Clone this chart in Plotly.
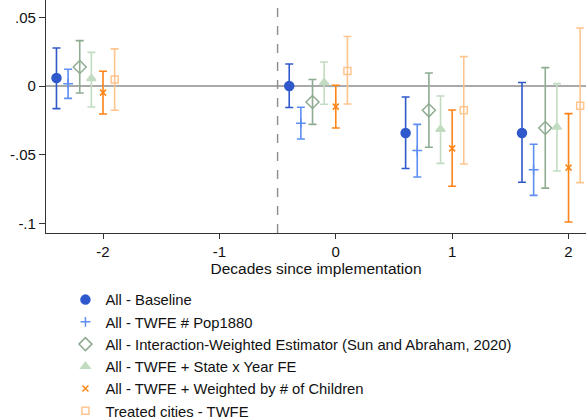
import plotly.graph_objects as go

# Event-study estimates by decade relative to implementation
decades = [-2, 0, 1, 2]

series_names = [
    "All - Baseline",
    "All - TWFE # Pop1880",
    "All - Interaction-Weighted Estimator (Sun and Abraham, 2020)",
    "All - TWFE + State x Year FE",
    "All - TWFE + Weighted by # of Children",
    "Treated cities - TWFE",
]

baseline_est = [0.0058, 0.0, -0.0342, -0.0342]
baseline_hi = [0.0277, 0.0160, -0.0080, 0.0025]
baseline_lo = [-0.0165, -0.0157, -0.0601, -0.0701]

pop1880_est = [0.0017, -0.0272, -0.0470, -0.0609]
pop1880_hi = [0.0122, -0.0155, -0.0279, -0.0424]
pop1880_lo = [-0.0090, -0.0386, -0.0662, -0.0796]

iw_est = [0.0138, -0.0116, -0.0177, -0.0306]
iw_hi = [0.0330, 0.0047, 0.0095, 0.0134]
iw_lo = [-0.0051, -0.0279, -0.0446, -0.0743]

stateyear_est = [0.0054, 0.0025, -0.0315, -0.0298]
stateyear_hi = [0.0245, 0.0175, -0.0073, 0.0017]
stateyear_lo = [-0.0153, -0.0133, -0.0563, -0.0619]

children_est = [-0.0048, -0.0150, -0.0454, -0.0594]
children_hi = [0.0107, 0.0005, -0.0175, -0.0201]
children_lo = [-0.0204, -0.0306, -0.0730, -0.0990]

treated_est = [0.0047, 0.0109, -0.0177, -0.0143]
treated_hi = [0.0270, 0.0360, 0.0214, 0.0422]
treated_lo = [-0.0177, -0.0131, -0.0568, -0.0703]

x_offsets = [-0.4, -0.3, -0.2, -0.1, 0.0, 0.1]

estimates = [baseline_est, pop1880_est, iw_est, stateyear_est, children_est, treated_est]
upper = [baseline_hi, pop1880_hi, iw_hi, stateyear_hi, children_hi, treated_hi]
lower = [baseline_lo, pop1880_lo, iw_lo, stateyear_lo, children_lo, treated_lo]

colors = ["#2f58cc", "#5e8ef2", "#8fac92", "#c2dcc2", "#ff8418", "#ffc58f"]
symbols = ["circle", "cross-thin", "diamond-open", "triangle-up", "x-thin", "square-open"]
sizes = [9, 7, 10, 8, 6, 7]

fig = go.Figure()

for name, est, hi, lo, off, col, sym, sz in zip(
    series_names, estimates, upper, lower, x_offsets, colors, symbols, sizes
):
    xs = [d + off for d in decades]
    fig.add_trace(
        go.Scatter(
            x=xs,
            y=est,
            mode="markers",
            name=name,
            marker=dict(
                symbol=sym,
                size=sz,
                color=col,
                line=dict(color=col, width=1.5),
            ),
            error_y=dict(
                type="data",
                symmetric=False,
                array=[h - e for h, e in zip(hi, est)],
                arrayminus=[e - l for e, l in zip(est, lo)],
                color=col,
                thickness=1.6,
                width=4,
            ),
        )
    )

# Reference lines: zero effect and implementation timing
fig.add_hline(y=0, line=dict(color="#8c8c8c", width=1.6), layer="below")
fig.add_vline(x=-0.5, line=dict(color="#8c8c8c", width=1.4, dash="dash"), layer="below")

font_family = "Liberation Sans, Arial, sans-serif"

fig.update_layout(
    width=586,
    height=420,
    margin=dict(l=46, r=0, t=0, b=187),
    plot_bgcolor="white",
    paper_bgcolor="white",
    font=dict(family=font_family, size=15, color="#111111"),
    showlegend=True,
    legend=dict(
        xref="paper",
        yref="container",
        x=0.036,
        y=0.325,
        xanchor="left",
        yanchor="top",
        font=dict(size=14.8, color="#111111"),
        bgcolor="rgba(0,0,0,0)",
        itemwidth=30,
        tracegroupgap=0,
    ),
    xaxis=dict(
        range=[-2.49, 2.15],
        tickvals=[-2, -1, 0, 1, 2],
        ticktext=["-2", "-1", "0", "1", "2"],
        showgrid=False,
        zeroline=False,
        showline=True,
        linecolor="#333333",
        linewidth=1.2,
        ticks="outside",
        ticklen=5,
        tickcolor="#333333",
        tickfont=dict(size=15),
        automargin=False,
        title=dict(text="Decades since implementation", font=dict(size=15.5), standoff=0),
    ),
    yaxis=dict(
        range=[-0.107, 0.0626],
        tickvals=[0.05, 0, -0.05, -0.1],
        ticktext=[".05", "0", "-.05", "-.1"],
        showgrid=False,
        zeroline=False,
        showline=True,
        linecolor="#333333",
        linewidth=1.2,
        ticks="outside",
        ticklen=6,
        tickcolor="#333333",
        tickfont=dict(size=15),
        automargin=False,
    ),
)

fig.write_html("out.html")
